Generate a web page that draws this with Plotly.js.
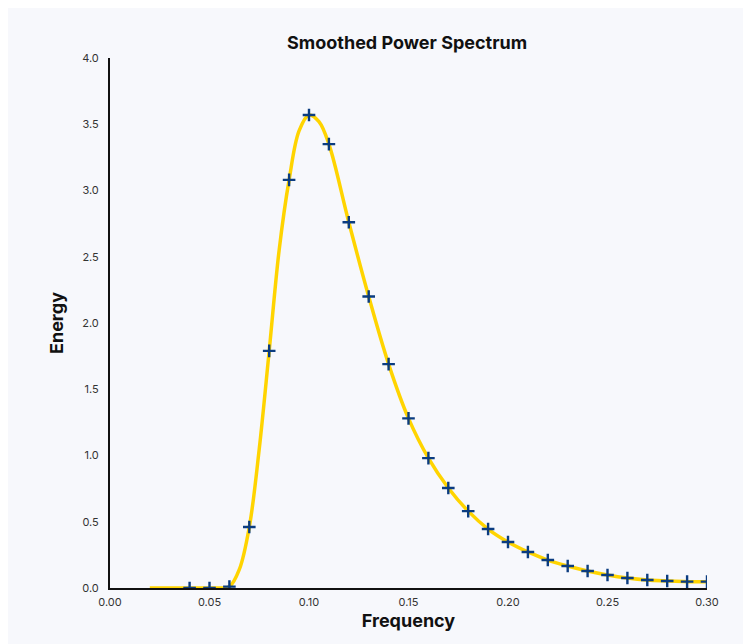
<!DOCTYPE html>
<html>
<head>
<meta charset="utf-8">
<script src="https://cdn.plot.ly/plotly-3.0.1.min.js"></script>
<style>
html,body{margin:0;padding:0;background:#ffffff;overflow:hidden;}
#chart{position:absolute;left:8px;top:8px;width:735px;height:636px;}
</style>
</head>
<body>
<div id="chart"></div>
<script>
// Sample points (markers)
var freq = [0.04,0.05,0.06,0.07,0.08,0.09,0.10,0.11,0.12,0.13,0.14,0.15,0.16,0.17,0.18,0.19,0.20,0.21,0.22,0.23,0.24,0.25,0.26,0.27,0.28,0.29,0.30];
var energy = [0.0,0.0,0.01,0.46,1.79,3.08,3.57,3.35,2.76,2.20,1.69,1.28,0.98,0.755,0.58,0.445,0.347,0.272,0.211,0.166,0.128,0.098,0.075,0.06,0.053,0.048,0.048];
// Smoothed curve points
var curveFreq = [0.02,0.03,0.04,0.05,0.055,0.06,0.065,0.07,0.075,0.08,0.085,0.09,0.095,0.10,0.105,0.11,0.12,0.13,0.14,0.15,0.16,0.17,0.18,0.19,0.20,0.21,0.22,0.23,0.24,0.25,0.26,0.27,0.28,0.29,0.30];
var curveEnergy = [0.0,0.0,0.0,0.0,0.0,0.01,0.14,0.46,1.05,1.79,2.55,3.08,3.45,3.57,3.52,3.35,2.76,2.20,1.69,1.28,0.98,0.755,0.58,0.445,0.347,0.272,0.211,0.166,0.128,0.098,0.075,0.06,0.053,0.048,0.048];
var xTicks = [0,0.05,0.10,0.15,0.20,0.25,0.30];
var xTickText = ["0.00","0.05","0.10","0.15","0.20","0.25","0.30"];
var yTicks = [0,0.5,1,1.5,2,2.5,3,3.5,4];
var yTickText = ["0.0","0.5","1.0","1.5","2.0","2.5","3.0","3.5","4.0"];

var traces = [
  {x: curveFreq, y: curveEnergy, type:'scatter', mode:'lines',
   line:{color:'#FFD400', width:3.5, shape:'spline', smoothing:1}, hoverinfo:'skip', showlegend:false},
  {x: freq, y: energy, type:'scatter', mode:'markers',
   marker:{symbol:'cross-thin', size:9, color:'#0B3C80', line:{color:'#0B3C80', width:2.4}}, showlegend:false}
];
var layout = {
  width:735, height:636,
  paper_bgcolor:'#F7F8FC', plot_bgcolor:'#F7F8FC',
  margin:{l:102, r:36, t:50, b:56},
  font:{family:'Inter, sans-serif', color:'#222'},
  title:{text:'<b>Smoothed Power Spectrum</b>', x:0.543, xanchor:'center', y:0.946, yanchor:'middle',
         font:{size:18, family:'Inter, sans-serif', color:'#111'}},
  xaxis:{range:[0,0.30], tickvals:xTicks, ticktext:xTickText, showgrid:false, zeroline:false,
         showline:true, linecolor:'#111', linewidth:2, ticks:'', ticklen:0, ticklabelstandoff:3,
         tickfont:{size:11, color:'#333'}, automargin:false,
         title:{text:'<b>Frequency</b>', font:{size:18, color:'#111'}, standoff:6}},
  yaxis:{range:[0,4.0], tickvals:yTicks, ticktext:yTickText, showgrid:false, zeroline:false,
         showline:true, linecolor:'#111', linewidth:2, ticks:'', ticklen:0, ticklabelstandoff:7,
         tickfont:{size:11, color:'#333'}, automargin:false,
         title:{text:'<b>Energy</b>', font:{size:18, color:'#111'}, standoff:14}}
};
Plotly.newPlot('chart', traces, layout, {displayModeBar:false, staticPlot:true});
</script>
</body>
</html>
